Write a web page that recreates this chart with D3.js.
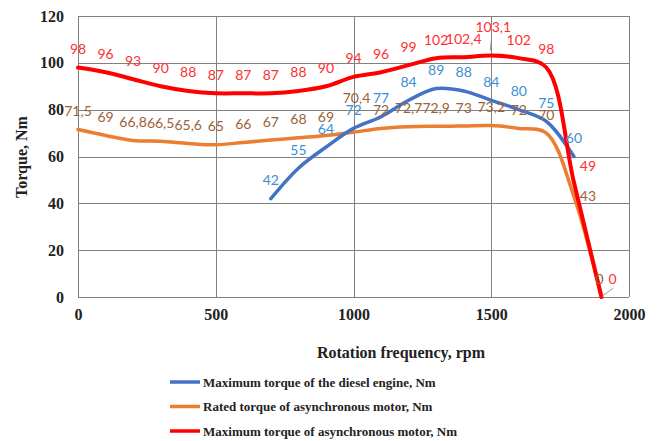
<!DOCTYPE html>
<html>
<head>
<meta charset="utf-8">
<style>
  body { margin: 0; background: #ffffff; }
</style>
</head>
<body>
<svg id="chart" width="664" height="441"></svg>
<script src="https://cdn.jsdelivr.net/npm/d3@7"></script>
<script>
// rotation frequency, rpm
const rpm = [0, 100, 200, 300, 400, 500, 600, 700, 800, 900, 1000, 1100, 1200, 1300, 1400, 1500, 1600, 1700, 1800, 1900];
const maxAsync = [98, 96, 93, 90, 88, 87, 87, 87, 88, 90, 94, 96, 99, 102, 102.4, 103.1, 102, 98, 49, 0];
const ratedAsync = [71.5, 69, 66.8, 66.5, 65.6, 65, 66, 67, 68, 69, 70.4, 72, 72.7, 72.9, 73, 73.2, 72, 70, 43, 0];
const dieselRpm = [700, 800, 900, 1000, 1100, 1200, 1300, 1400, 1500, 1600, 1700, 1800];
const diesel = [42, 55, 64, 72, 77, 84, 89, 88, 84, 80, 75, 60];
const xTicks = [0, 500, 1000, 1500, 2000];
const yTicks = [0, 20, 40, 60, 80, 100, 120];
const seriesNames = [
  "Maximum torque of the diesel engine, Nm",
  "Rated torque of asynchronous motor, Nm",
  "Maximum torque of asynchronous motor, Nm"
];

const SERIF = "'Liberation Serif', 'Times New Roman', 'DejaVu Serif', serif";
const LABEL_FONT = "Lato, 'Open Sans', sans-serif";

const svg = d3.select("#chart");
const x = d3.scaleLinear().domain([0, 2000]).range([78, 629]);
const y = d3.scaleLinear().domain([0, 120]).range([297, 16]);

// grid
const gridPath = d3.path();
yTicks.forEach(t => { gridPath.moveTo(x(0), Math.round(y(t)) + 0.5); gridPath.lineTo(x(2000), Math.round(y(t)) + 0.5); });
xTicks.forEach(t => { gridPath.moveTo(Math.round(x(t)) + 0.5, y(0)); gridPath.lineTo(Math.round(x(t)) + 0.5, y(120)); });
svg.append("path")
  .attr("d", gridPath.toString())
  .attr("fill", "none")
  .attr("stroke", "#808080")
  .attr("stroke-width", 1.5)
  .attr("shape-rendering", "crispEdges");

// axes (labels only)
const xAxis = svg.append("g").attr("transform", "translate(0," + y(0) + ")")
  .call(d3.axisBottom(x).tickValues(xTicks).tickFormat(d3.format("d")).tickSize(0).tickPadding(12));
const yAxis = svg.append("g").attr("transform", "translate(" + x(0) + ",0)")
  .call(d3.axisLeft(y).tickValues(yTicks).tickFormat(d3.format("d")).tickSize(0).tickPadding(14));
xAxis.select(".domain").remove();
yAxis.select(".domain").remove();
[xAxis, yAxis].forEach(g => g.selectAll(".tick text")
  .style("font-family", SERIF).style("font-weight", "bold")
  .style("font-size", "16px").style("fill", "#222"));

// series
const colors = { blue: "#4472c4", orange: "#ed7d31", red: "#ff0000" };
const labelColors = { blue: "#3b8fd6", orange: "#9c6238", red: "#ff3030" };
const line = d3.line().x(d => x(d[0])).y(d => y(d[1])).curve(d3.curveCatmullRom.alpha(0.5));

const series = [
  { key: "orange", xs: rpm, ys: ratedAsync, w: 3.5 },
  { key: "blue", xs: dieselRpm, ys: diesel, w: 3.5 },
  { key: "red", xs: rpm, ys: maxAsync, w: 4 }
];
series.forEach(s => {
  svg.append("path")
    .datum(s.xs.map((v, i) => [v, s.ys[i]]))
    .attr("fill", "none")
    .attr("stroke", colors[s.key])
    .attr("stroke-width", s.w)
    .attr("stroke-linejoin", "round")
    .attr("stroke-linecap", "round")
    .attr("d", line);
});

// leader lines
svg.append("path")
  .attr("d", d3.line()([[x(1500), y(103.1) - 15], [x(1500) - 1, y(103.1) - 5]]))
  .attr("fill", "none").attr("stroke", "#999").attr("stroke-width", 1);
svg.append("path")
  .attr("d", d3.line()([[x(1900) + 1, y(0) - 1], [x(1900) + 12, y(0) - 9]]))
  .attr("fill", "none").attr("stroke", "#999").attr("stroke-width", 1);

// data labels
function fmt(v) { return String(v).replace(".", ","); }
function offset(key, xv) {
  if (key === "red" && xv === 1500) return [2, -29];
  if (key === "red" && xv === 1800) return [14, -17];
  if (key === "orange" && xv === 1800) return [14, -1];
  if (key === "red" && xv === 1900) return [11, -19];
  if (key === "orange" && xv === 1900) return [-2, -19];
  if (key === "orange" && xv === 1000) return [3, -35];
  return [0, -19];
}
series.forEach(s => {
  svg.append("g").selectAll("text")
    .data(s.xs.map((v, i) => [v, s.ys[i]]))
    .join("text")
    .style("font-family", LABEL_FONT)
    .style("font-size", "14px")
    .attr("fill", labelColors[s.key])
    .attr("text-anchor", "middle")
    .attr("dominant-baseline", "central")
    .attr("x", d => x(d[0]) + offset(s.key, d[0])[0])
    .attr("y", d => y(d[1]) + offset(s.key, d[0])[1])
    .text(d => fmt(d[1]));
});

// titles
svg.append("text")
  .style("font-family", SERIF).style("font-weight", "bold").style("font-size", "16px")
  .attr("fill", "#222")
  .attr("x", 401).attr("y", 358).attr("text-anchor", "middle")
  .text("Rotation frequency, rpm");
svg.append("text")
  .style("font-family", SERIF).style("font-weight", "bold").style("font-size", "16px")
  .attr("fill", "#222")
  .attr("transform", "translate(27,157) rotate(-90)").attr("text-anchor", "middle")
  .text("Torque, Nm");

// legend
const legend = svg.append("g");
const legendKeys = ["blue", "orange", "red"];
legendKeys.forEach((k, i) => {
  const ly = 382 + i * 24.5;
  legend.append("line").attr("x1", 170).attr("x2", 200).attr("y1", ly).attr("y2", ly)
    .style("stroke", colors[k]).style("stroke-width", "3.5px");
  legend.append("text").attr("x", 203).attr("y", ly).attr("dominant-baseline", "central")
    .style("font-family", SERIF).style("font-weight", "bold").style("font-size", "13px")
    .attr("fill", "#222")
    .text(seriesNames[i]);
});
</script>
</body>
</html>
